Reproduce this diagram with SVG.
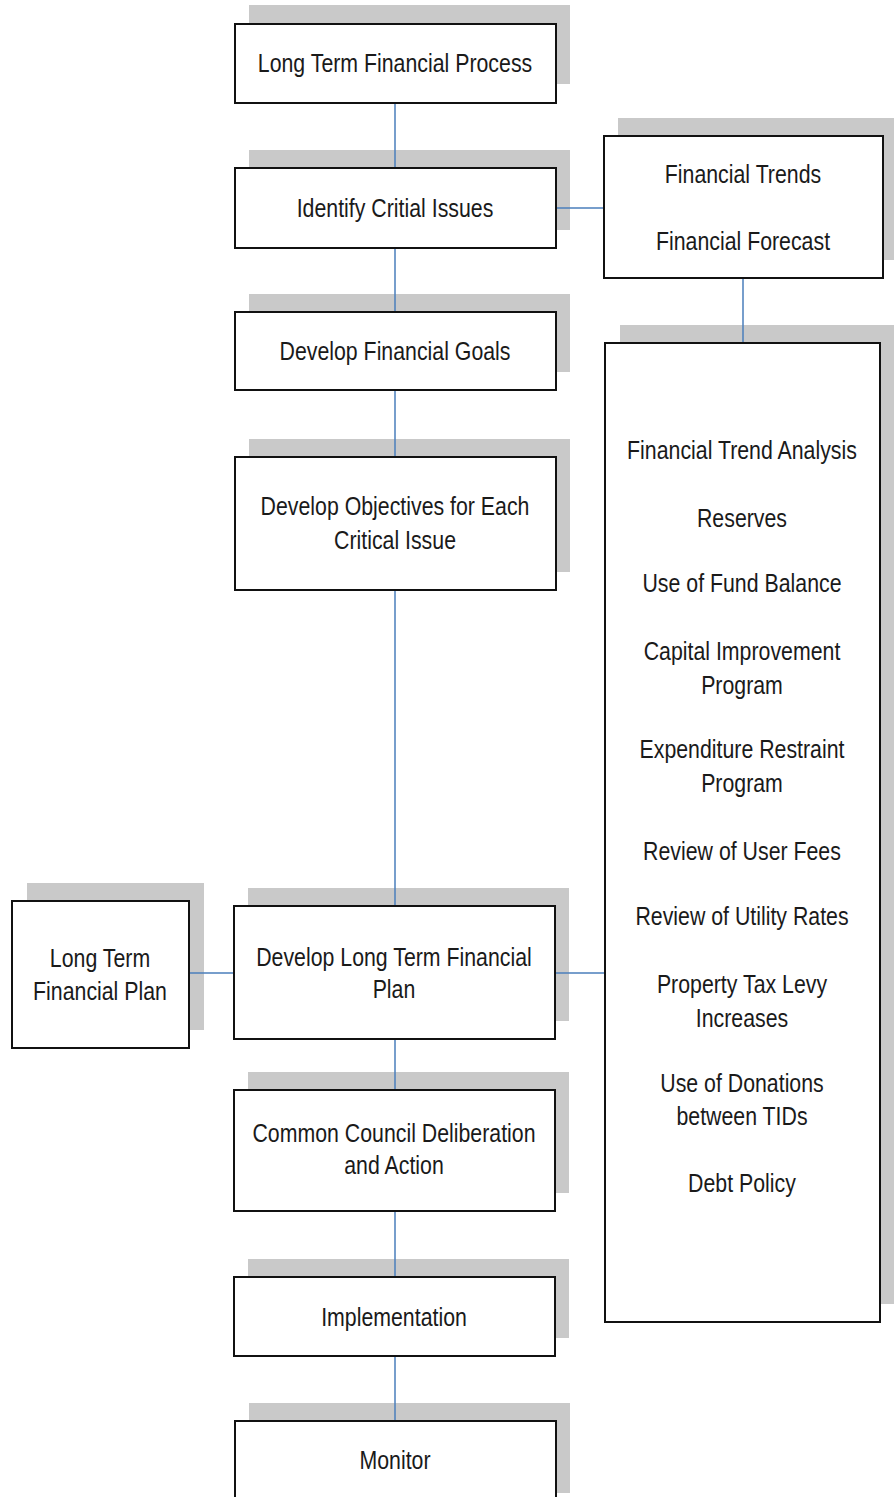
<svg xmlns="http://www.w3.org/2000/svg" width="894" height="1497" viewBox="0 0 894 1497">
<style>
.sh{fill:#c9c9c9}
.bx{fill:#ffffff;stroke:#111111;stroke-width:2}
.t{font-family:"Liberation Sans",Arial,sans-serif;font-size:26px;fill:#1a1a1a;text-anchor:middle}
.c{stroke:#4a7ebb;stroke-width:1.5;fill:none}
</style>
<rect width="894" height="1497" fill="#ffffff"/>
<g id="n1">
<rect class="sh" x="249" y="5" width="321" height="79"/>
<rect class="bx" x="235" y="24" width="321" height="79"/>
<text class="t" transform="scale(0.82 1)" x="481.71" y="72">Long Term Financial Process</text>
</g>
<g id="n2">
<rect class="sh" x="249" y="150" width="321" height="80"/>
<rect class="bx" x="235" y="168" width="321" height="80"/>
<text class="t" transform="scale(0.82 1)" x="481.71" y="217">Identify Critial Issues</text>
</g>
<g id="n3">
<rect class="sh" x="249" y="294" width="321" height="78"/>
<rect class="bx" x="235" y="312" width="321" height="78"/>
<text class="t" transform="scale(0.82 1)" x="481.71" y="360">Develop Financial Goals</text>
</g>
<g id="n4">
<rect class="sh" x="249" y="439" width="321" height="133"/>
<rect class="bx" x="235" y="457" width="321" height="133"/>
<text class="t" transform="scale(0.82 1)" x="481.71" y="515">Develop Objectives for Each</text>
<text class="t" transform="scale(0.82 1)" x="481.71" y="549">Critical Issue</text>
</g>
<g id="n5">
<rect class="sh" x="248" y="888" width="321" height="133"/>
<rect class="bx" x="234" y="906" width="321" height="133"/>
<text class="t" transform="scale(0.82 1)" x="480.49" y="966">Develop Long Term Financial</text>
<text class="t" transform="scale(0.82 1)" x="480.49" y="998">Plan</text>
</g>
<g id="n6">
<rect class="sh" x="248" y="1072" width="321" height="121"/>
<rect class="bx" x="234" y="1090" width="321" height="121"/>
<text class="t" transform="scale(0.82 1)" x="480.49" y="1142">Common Council Deliberation</text>
<text class="t" transform="scale(0.82 1)" x="480.49" y="1174">and Action</text>
</g>
<g id="n7">
<rect class="sh" x="248" y="1259" width="321" height="79"/>
<rect class="bx" x="234" y="1277" width="321" height="79"/>
<text class="t" transform="scale(0.82 1)" x="480.49" y="1326">Implementation</text>
</g>
<g id="n8">
<rect class="sh" x="249" y="1403" width="321" height="90"/>
<rect class="bx" x="235" y="1421" width="321" height="90"/>
<text class="t" transform="scale(0.82 1)" x="481.71" y="1469">Monitor</text>
</g>
<g id="n9">
<rect class="sh" x="27" y="883" width="177" height="147"/>
<rect class="bx" x="12" y="901" width="177" height="147"/>
<text class="t" transform="scale(0.82 1)" x="121.95" y="967">Long Term</text>
<text class="t" transform="scale(0.82 1)" x="121.95" y="1000">Financial Plan</text>
</g>
<g id="n10">
<rect class="sh" x="618" y="118" width="279" height="142"/>
<rect class="bx" x="604" y="136" width="279" height="142"/>
<text class="t" transform="scale(0.82 1)" x="906.10" y="183">Financial Trends</text>
<text class="t" transform="scale(0.82 1)" x="906.10" y="250">Financial Forecast</text>
</g>
<g id="n11">
<rect class="sh" x="620" y="325" width="278" height="979"/>
<rect class="bx" x="605" y="343" width="275" height="979"/>
<text class="t" transform="scale(0.82 1)" x="904.88" y="459">Financial Trend Analysis</text>
<text class="t" transform="scale(0.82 1)" x="904.88" y="527">Reserves</text>
<text class="t" transform="scale(0.82 1)" x="904.88" y="592">Use of Fund Balance</text>
<text class="t" transform="scale(0.82 1)" x="904.88" y="660">Capital Improvement</text>
<text class="t" transform="scale(0.82 1)" x="904.88" y="694">Program</text>
<text class="t" transform="scale(0.82 1)" x="904.88" y="758">Expenditure Restraint</text>
<text class="t" transform="scale(0.82 1)" x="904.88" y="792">Program</text>
<text class="t" transform="scale(0.82 1)" x="904.88" y="860">Review of User Fees</text>
<text class="t" transform="scale(0.82 1)" x="904.88" y="925">Review of Utility Rates</text>
<text class="t" transform="scale(0.82 1)" x="904.88" y="993">Property Tax Levy</text>
<text class="t" transform="scale(0.82 1)" x="904.88" y="1027">Increases</text>
<text class="t" transform="scale(0.82 1)" x="904.88" y="1092">Use of Donations</text>
<text class="t" transform="scale(0.82 1)" x="904.88" y="1125">between TIDs</text>
<text class="t" transform="scale(0.82 1)" x="904.88" y="1192">Debt Policy</text>
</g>
<g id="connectors">
<line class="c" x1="395" y1="104" x2="395" y2="167"/>
<line class="c" x1="395" y1="249" x2="395" y2="311"/>
<line class="c" x1="395" y1="391" x2="395" y2="456"/>
<line class="c" x1="395" y1="591" x2="395" y2="905"/>
<line class="c" x1="395" y1="1040" x2="395" y2="1089"/>
<line class="c" x1="395" y1="1212" x2="395" y2="1276"/>
<line class="c" x1="395" y1="1357" x2="395" y2="1420"/>
<line class="c" x1="557" y1="208" x2="603" y2="208"/>
<line class="c" x1="743" y1="279" x2="743" y2="342"/>
<line class="c" x1="556" y1="973" x2="604" y2="973"/>
<line class="c" x1="190" y1="973" x2="233" y2="973"/>
</g>
</svg>
